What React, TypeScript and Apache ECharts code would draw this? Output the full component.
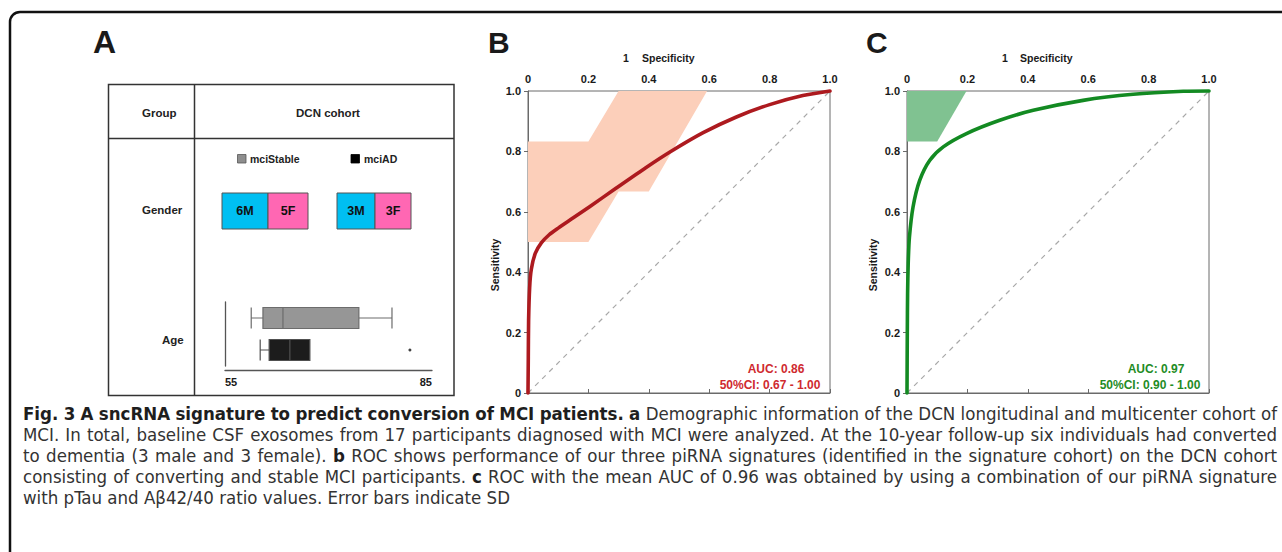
import React, { useEffect, useRef } from "react";
import * as echarts from "echarts";

// ---------- Data ----------
const AGE_GROUPS = ["mciAD", "mciStable"];
// [min, Q1, median, Q3, max]
const AGE_BOX_AD = [60.1, 61.4, 64.4, 67.3, 67.3];
const AGE_BOX_STABLE = [58.8, 60.5, 63.4, 74.4, 79.2];
const AGE_OUTLIERS = [[81.8, 0]];
const AGE_MIN = 55;
const AGE_MAX = 85;

const GENDER_GROUPS = ["mciStable", "mciAD"];
const MALE_COUNTS = [6, 3];
const FEMALE_COUNTS = [5, 3];

const ROC_B = [
  [0, 0], [0.001, 0.12], [0.002, 0.24], [0.0055, 0.35], [0.011, 0.41], [0.024, 0.462],
  [0.044, 0.497], [0.07, 0.524], [0.1, 0.546], [0.15, 0.58], [0.204, 0.617],
  [0.29, 0.677], [0.39, 0.746], [0.47, 0.798], [0.58, 0.862],
  [0.69, 0.914], [0.8, 0.955], [0.91, 0.985], [1, 1],
];
const BAND_B = [
  [0, 0.833], [0.2, 0.833], [0.3, 1], [0.593, 1], [0.4, 0.667],
  [0.3, 0.667], [0.2, 0.5], [0, 0.5],
];
const AUC_B = "AUC: 0.86";
const CI_B = "50%CI: 0.67 - 1.00";

const ROC_C = [
  [0, 0], [0.001, 0.2], [0.002, 0.33], [0.004, 0.43], [0.008, 0.515],
  [0.02, 0.616], [0.042, 0.704], [0.075, 0.77], [0.12, 0.815], [0.197, 0.859],
  [0.307, 0.903], [0.418, 0.936], [0.583, 0.969], [0.749, 0.989], [0.915, 0.999], [1, 1],
];
const BAND_C = [[0, 1], [0.197, 1], [0.1, 0.833], [0, 0.833]];
const AUC_C = "AUC: 0.97";
const CI_C = "50%CI: 0.90 - 1.00";

const DIAG = [[0, 0], [1, 1]];

const CAPTION = [
  [["b", "Fig. 3 A sncRNA signature to predict conversion of MCI patients. a"], ["n", " Demographic information of the DCN longitudinal and multicenter cohort of"]],
  [["n", "MCI. In total, baseline CSF exosomes from 17 participants diagnosed with MCI were analyzed. At the 10-year follow-up six individuals had converted"]],
  [["n", "to dementia (3 male and 3 female). "], ["b", "b"], ["n", " ROC shows performance of our three piRNA signatures (identified in the signature cohort) on the DCN cohort"]],
  [["n", "consisting of converting and stable MCI participants. "], ["b", "c"], ["n", " ROC with the mean AUC of 0.96 was obtained by using a combination of our piRNA signature"]],
  [["n", "with pTau and A\u03b242/40 ratio values. Error bars indicate SD"]],
];

// ---------- Style ----------
const FONT = "'Liberation Sans', Arial, sans-serif";
const CAP_FONT = "'Liberation Sans Narrow', 'DejaVu Sans Condensed', 'Open Sans', sans-serif";
const CAP_LEFT = 23;
const CAP_RIGHT = 1277;
const CAP_TOP = 413;
const CAP_STEP = 21;

const RED_LINE = "#ad1a1f";
const RED_TEXT = "#cf2a2f";
const PEACH = "#fccfba";
const GREEN_LINE = "#138a22";
const GREEN_TEXT = "#1f8c26";
const GREEN_BAND = "#80c291";
const CYAN = "#00bff2";
const PINK = "#ff67b3";

function txt(x: number, y: number, text: string, o: any = {}) {
  return {
    type: "text",
    x,
    y,
    rotation: o.rotation || 0,
    style: {
      text,
      fontFamily: o.family || FONT,
      fontSize: o.size || 11,
      fontWeight: o.weight || "bold",
      fill: o.fill || "#1a1a1a",
      align: o.align || "left",
      verticalAlign: "middle",
    },
  };
}

function captionElements() {
  const canvas = document.createElement("canvas");
  const ctx = canvas.getContext("2d") as CanvasRenderingContext2D;
  const fontOf = (b: boolean, s: number) => `${b ? "bold" : "normal"} ${s}px ${CAP_FONT}`;
  const lines = CAPTION.map((line) => {
    const words: { t: string; b: boolean }[] = [];
    line.forEach(([w, s]) =>
      s.split(" ").forEach((t) => {
        if (t) words.push({ t, b: w === "b" });
      })
    );
    return words;
  });
  const measure = (words: { t: string; b: boolean }[], s: number) =>
    words.map((wd) => {
      ctx.font = fontOf(wd.b, s);
      return ctx.measureText(wd.t).width;
    });
  let maxNat = 0;
  lines.slice(0, -1).forEach((words) => {
    const w = measure(words, 100);
    ctx.font = fontOf(false, 100);
    const sp = ctx.measureText(" ").width;
    const nat = w.reduce((a, b) => a + b, 0) + sp * (words.length - 1);
    if (nat > maxNat) maxNat = nat;
  });
  const size = Math.min(19, Math.max(12, (100 * (CAP_RIGHT - CAP_LEFT)) / maxNat));
  const els: any[] = [];
  lines.forEach((words, li) => {
    const widths = measure(words, size);
    const total = widths.reduce((a, b) => a + b, 0);
    ctx.font = fontOf(false, size);
    const sp = ctx.measureText(" ").width;
    const last = li === lines.length - 1;
    const gap = last ? sp : (CAP_RIGHT - CAP_LEFT - total) / (words.length - 1);
    let x = CAP_LEFT;
    const y = CAP_TOP + li * CAP_STEP;
    words.forEach((wd, i) => {
      els.push(
        txt(x, y, wd.t, {
          family: CAP_FONT,
          size,
          weight: wd.b ? "bold" : "normal",
          fill: wd.b ? "#1e1e1e" : "#333333",
        })
      );
      x += widths[i] + gap;
    });
  });
  return els;
}

function rocAxes(idx: number) {
  const label = {
    margin: 7,
    fontFamily: FONT,
    fontSize: 11,
    fontWeight: "bold",
    color: "#1a1a1a",
    formatter: (v: number) => (v === 0 ? "0" : v.toFixed(1)),
  };
  const common = {
    type: "value",
    gridIndex: idx,
    min: 0,
    max: 1,
    interval: 0.2,
    axisLine: { show: true, lineStyle: { color: "#6a6a6a", width: 1 } },
    axisTick: { show: true, length: 4, lineStyle: { color: "#6a6a6a" } },
    splitLine: { show: false },
    axisLabel: label,
  };
  return { x: { ...common, position: "top" }, y: { ...common } };
}

function bandSeries(idx: number, band: number[][], fill: string) {
  return {
    type: "custom",
    xAxisIndex: idx,
    yAxisIndex: idx,
    data: band,
    z: 1,
    silent: true,
    renderItem: (params: any, api: any) => {
      if (params.dataIndex !== 0) return null;
      const pts = band.map((p) => api.coord(p));
      return { type: "polygon", shape: { points: pts }, style: { fill } };
    },
  };
}

function rocSeries(idx: number, data: number[][], color: string) {
  return [
    {
      type: "line",
      xAxisIndex: idx,
      yAxisIndex: idx,
      data: DIAG,
      symbol: "none",
      z: 2,
      lineStyle: { color: "#a8a8a8", width: 1.2, type: [5, 5] },
    },
    {
      type: "line",
      xAxisIndex: idx,
      yAxisIndex: idx,
      data,
      symbol: "none",
      smooth: 0.25,
      clip: false,
      z: 3,
      lineStyle: { color, width: 3.6, cap: "round", join: "round" },
    },
  ];
}

export default function App() {
  const ref = useRef<HTMLDivElement>(null);

  useEffect(() => {
    if (!ref.current) return;
    const chart = echarts.init(ref.current, undefined, { renderer: "svg" });
    const gB = rocAxes(1);
    const gC = rocAxes(2);

    const genderBoxes = [
      { x: 222, mw: 46, fw: 40 },
      { x: 337, mw: 38, fw: 36 },
    ];
    const genderEls: any[] = [];
    GENDER_GROUPS.forEach((g, i) => {
      const b = genderBoxes[i];
      genderEls.push({
        type: "rect",
        shape: { x: b.x, y: 193, width: b.mw, height: 36 },
        style: { fill: CYAN, stroke: "#555", lineWidth: 1 },
      });
      genderEls.push({
        type: "rect",
        shape: { x: b.x + b.mw, y: 193, width: b.fw, height: 36 },
        style: { fill: PINK, stroke: "#555", lineWidth: 1 },
      });
      genderEls.push(txt(b.x + b.mw / 2, 211, `${MALE_COUNTS[i]}M`, { size: 12.5, align: "center", fill: "#111" }));
      genderEls.push(txt(b.x + b.mw + b.fw / 2, 211, `${FEMALE_COUNTS[i]}F`, { size: 12.5, align: "center", fill: "#111" }));
    });

    const option: any = {
      animation: false,
      backgroundColor: "#ffffff",
      grid: [
        { left: 225, top: 302, width: 207, height: 64 },
        { left: 528, top: 91, width: 302, height: 302, show: true, borderColor: "#6a6a6a", borderWidth: 1 },
        { left: 907, top: 91, width: 302, height: 302, show: true, borderColor: "#6a6a6a", borderWidth: 1 },
      ],
      xAxis: [
        {
          type: "value",
          gridIndex: 0,
          min: AGE_MIN,
          max: AGE_MAX,
          interval: AGE_MAX - AGE_MIN,
          offset: 4,
          axisLine: { show: true, lineStyle: { color: "#555", width: 1.3 } },
          axisTick: { show: false },
          splitLine: { show: false },
          axisLabel: {
            margin: 6,
            fontFamily: FONT,
            fontSize: 11,
            fontWeight: "bold",
            color: "#1a1a1a",
            alignMinLabel: "left",
            alignMaxLabel: "right",
          },
        },
        gB.x,
        gC.x,
      ],
      yAxis: [
        {
          type: "category",
          gridIndex: 0,
          data: AGE_GROUPS,
          axisLine: { show: true, lineStyle: { color: "#555", width: 1.3 } },
          axisTick: { show: false },
          axisLabel: { show: false },
          splitLine: { show: false },
        },
        gB.y,
        gC.y,
      ],
      series: [
        {
          type: "boxplot",
          xAxisIndex: 0,
          yAxisIndex: 0,
          boxWidth: [21, 21],
          data: [
            { value: AGE_BOX_AD, itemStyle: { color: "#1c1c1c", borderColor: "#505050", borderWidth: 1.2 } },
            { value: AGE_BOX_STABLE, itemStyle: { color: "#969696", borderColor: "#6c6c6c", borderWidth: 1.2 } },
          ],
        },
        {
          type: "scatter",
          xAxisIndex: 0,
          yAxisIndex: 0,
          data: AGE_OUTLIERS,
          symbolSize: 3,
          itemStyle: { color: "#111" },
        },
        bandSeries(1, BAND_B, PEACH),
        ...rocSeries(1, ROC_B, RED_LINE),
        bandSeries(2, BAND_C, GREEN_BAND),
        ...rocSeries(2, ROC_C, GREEN_LINE),
      ],
      graphic: [
        {
          type: "rect",
          shape: { x: 10, y: 12, width: 1320, height: 600, r: 10 },
          style: { fill: "none", stroke: "#111", lineWidth: 2.5 },
          z: 0,
        },
        txt(93, 42, "A", { size: 32 }),
        txt(488, 42, "B", { size: 30 }),
        txt(866, 42, "C", { size: 30 }),
        {
          type: "rect",
          shape: { x: 108.5, y: 84.5, width: 345.5, height: 311 },
          style: { fill: "none", stroke: "#333", lineWidth: 1.5 },
        },
        { type: "line", shape: { x1: 194.5, y1: 84.5, x2: 194.5, y2: 395.5 }, style: { stroke: "#333", lineWidth: 1.5 } },
        { type: "line", shape: { x1: 108.5, y1: 138.5, x2: 454, y2: 138.5 }, style: { stroke: "#333", lineWidth: 1.5 } },
        txt(142, 113, "Group", { size: 11.5, fill: "#222" }),
        txt(328, 113, "DCN cohort", { size: 11.5, align: "center", fill: "#222" }),
        txt(142, 210, "Gender", { size: 11.5, fill: "#222" }),
        txt(162, 340, "Age", { size: 11.5, fill: "#222" }),
        { type: "rect", shape: { x: 237.5, y: 154.5, width: 8.5, height: 8.5 }, style: { fill: "#8e8e8e", stroke: "#555", lineWidth: 0.8 } },
        txt(250, 159, GENDER_GROUPS[0], { size: 10.5, fill: "#222" }),
        { type: "rect", shape: { x: 351, y: 154.5, width: 8.5, height: 8.5 }, style: { fill: "#000", stroke: "#000", lineWidth: 0.8 } },
        txt(364, 159, GENDER_GROUPS[1], { size: 10.5, fill: "#222" }),
        ...genderEls,
        txt(623, 57.5, "1", { size: 10.5 }),
        txt(642, 57.5, "Specificity", { size: 10.5 }),
        txt(495, 265, "Sensitivity", { size: 10.5, align: "center", rotation: Math.PI / 2 }),
        txt(776, 369, AUC_B, { size: 12, align: "center", fill: RED_TEXT }),
        txt(770, 384.5, CI_B, { size: 12, align: "center", fill: RED_TEXT }),
        txt(1002, 57.5, "1", { size: 10.5 }),
        txt(1020, 57.5, "Specificity", { size: 10.5 }),
        txt(873, 265, "Sensitivity", { size: 10.5, align: "center", rotation: Math.PI / 2 }),
        txt(1156, 369, AUC_C, { size: 12, align: "center", fill: GREEN_TEXT }),
        txt(1150, 384.5, CI_C, { size: 12, align: "center", fill: GREEN_TEXT }),
        ...captionElements(),
      ],
    };
    chart.setOption(option);
    return () => chart.dispose();
  }, []);

  return (
    <div
      ref={ref}
      style={{ position: "absolute", left: 0, top: 0, width: 1282, height: 552, background: "#fff" }}
    />
  );
}
